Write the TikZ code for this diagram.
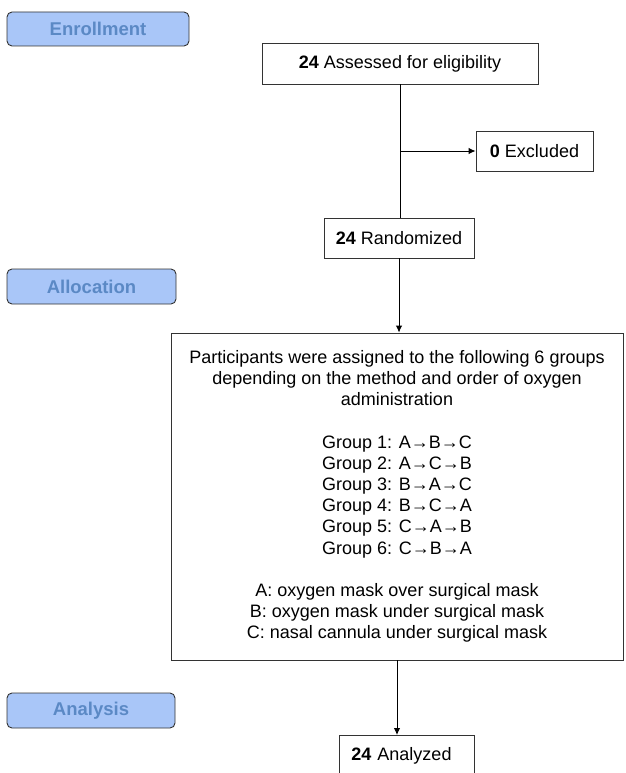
\documentclass[tikz,border=0pt]{standalone}
\usepackage{fontspec}
\setmainfont{Liberation Sans}
\usetikzlibrary{arrows.meta}
\definecolor{phasefill}{HTML}{A9C6F8}
\definecolor{phasetext}{HTML}{5B89C5}
\definecolor{edge}{HTML}{333333}
\tikzset{
  box/.style={draw=edge, line width=0.9pt, fill=white, inner sep=0pt, align=center,
    font=\fontsize{18}{21.2}\selectfont},
  phase/.style={draw=edge, line width=0.9pt, fill=phasefill, rounded corners=5pt,
    inner sep=0pt, text=phasetext, font=\fontsize{18.5}{22}\selectfont\bfseries},
  conn/.style={draw=black, line width=0.9pt},
  arr/.style={conn, -{Latex[length=7pt,width=6.5pt]}}
}
\begin{document}
\begin{tikzpicture}[x=1pt,y=-1pt]
\useasboundingbox (0,0) rectangle (625,773);
% phase labels
\node[phase, minimum width=182pt, minimum height=34pt] (enroll) at (98,29) {Enrollment};
\node[phase, minimum width=169pt, minimum height=35pt] (alloc) at (91.5,286.5) {Allocation};
\node[phase, minimum width=168pt, minimum height=35pt] (anal) at (91,710.5) {Analysis};
% flow boxes
\node[box, minimum width=276pt, minimum height=41pt] (assess) at (400,63.5) {\textbf{24} Assessed for eligibility};
\node[box, minimum width=117pt, minimum height=40pt] (excl) at (534.5,151) {\textbf{0} Excluded};
\node[box, minimum width=150pt, minimum height=40pt] (rand) at (399,238) {\textbf{24} Randomized};
\node[box, minimum width=452pt, minimum height=327pt] (big) at (397,496.5) {%
Participants were assigned to the following 6 groups\\
depending on the method and order of oxygen\\
administration\\[21.2pt]
Group 1: A→B→C\\
Group 2: A→C→B\\
Group 3: B→A→C\\
Group 4: B→C→A\\
Group 5: C→A→B\\
Group 6: C→B→A\\[21.2pt]
A: oxygen mask over surgical mask\\
B: oxygen mask under surgical mask\\
C: nasal cannula under surgical mask};
\node[box, anchor=north west, minimum height=40pt, text width=111pt, inner xsep=12pt, align=left] (analyzed) at (339,735) {\textbf{24} Analyzed};
% connectors
\coordinate (br) at (assess.south |- excl.west);
\draw[conn] (assess.south) -- (assess.south |- rand.north);
\draw[arr] (br) -- (excl.west);
\draw[arr] (rand.south) -- (rand.south |- big.north);
\draw[arr] (big.south) -- (big.south |- analyzed.north);
\end{tikzpicture}
\end{document}
